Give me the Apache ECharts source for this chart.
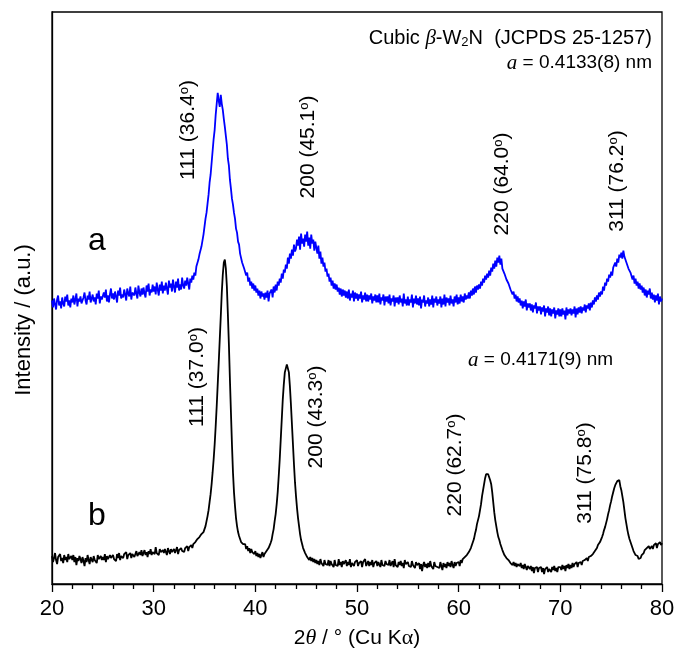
<!DOCTYPE html>
<html><head><meta charset="utf-8">
<script src="https://cdn.jsdelivr.net/npm/echarts@6/dist/echarts.min.js"></script>
<style>html,body{margin:0;padding:0;background:#fff}#c{width:678px;height:654px}</style>
</head><body><div id="c"></div>
<script>
// 2θ grid of the scans (degrees): start and step
const thetaStart = 20, thetaStep = 0.1;
// sample a (blue, offset upward), one row per degree
const intensityA = [
284,277,286,280,275,285,289,279,283,276,
287,281,278,288,283,290,279,284,277,286,
282,289,280,285,291,278,286,283,288,281,
279,287,292,284,280,289,285,293,282,286,
290,283,287,280,291,286,294,281,288,285,
284,292,287,295,283,289,282,290,296,286,
291,285,293,288,282,294,289,297,286,290,
287,295,290,284,296,291,288,298,285,292,
294,289,297,291,286,299,292,288,296,290,
297,291,287,299,293,301,289,295,292,300,
293,298,290,302,295,289,300,294,303,291,
299,294,302,296,290,304,297,301,293,305,
298,292,303,297,306,294,300,295,307,299,
296,304,299,307,301,295,306,302,309,305,
312,309,318,316,325,330,328,338,344,350,
358,366,372,381,390,402,410,422,434,446,
455,470,481,492,484,478,490,481,475,466,
458,449,440,426,419,405,396,386,380,372,
366,356,352,343,340,331,330,322,322,316,
318,309,312,303,307,299,303,296,301,294,
299,292,296,289,294,286,293,288,291,285,
292,287,294,283,291,289,295,287,298,292,
300,294,303,299,306,302,311,306,315,312,
320,316,327,321,331,326,335,329,340,333,
336,345,339,348,335,351,341,346,338,350,
343,353,339,347,336,350,341,345,334,343,
337,331,339,326,333,321,327,318,322,313,
316,308,311,303,307,299,304,296,301,295,
300,293,297,290,296,288,295,289,294,287,
293,286,295,284,291,287,294,283,292,286,
291,284,290,286,293,282,289,285,292,283,
290,283,289,285,291,281,288,284,290,282,
289,282,291,280,287,284,290,279,288,283,
288,281,290,279,286,283,289,278,287,282,
287,280,289,282,286,278,291,281,285,279,
288,279,285,282,290,277,286,281,289,280,
286,279,288,276,285,282,289,278,284,281,
287,278,285,280,289,277,286,282,288,279,
285,281,288,277,286,280,290,278,287,282,
286,279,289,281,285,278,288,282,290,280,
287,281,290,283,288,282,291,285,289,286,
292,286,294,289,296,290,298,292,299,295,
300,296,303,299,306,302,309,305,311,307,
314,309,317,313,321,316,324,318,327,322,
329,320,326,316,318,311,312,305,306,301,
303,295,297,290,293,286,290,283,288,282,
286,279,284,276,283,278,285,274,281,277,
281,274,280,272,279,276,282,271,278,274,
278,270,277,273,279,268,276,272,278,269,
276,268,275,271,277,266,274,270,276,268,
275,268,276,270,274,265,277,269,275,271,
276,269,275,271,278,267,276,270,277,272,
278,271,277,274,280,272,279,276,281,274,
282,277,284,280,287,283,289,285,292,288,
293,290,298,294,302,299,306,303,310,307,
313,309,317,315,322,318,326,322,330,327,
332,326,334,328,329,322,324,316,318,312,
314,305,309,301,306,299,303,296,301,295,
299,292,297,289,295,287,294,290,296,286,
292,285,290,282,289,284,291,280,288,283,
286
];
// sample b (black), one row per degree
const intensityB = [
28,22,26,31,24,20,27,25,30,23,
26,21,29,24,27,22,30,25,23,28,
24,29,22,27,19,26,23,28,25,21,
27,23,18,26,22,29,24,20,27,25,
22,28,24,26,21,29,25,23,28,24,
27,24,30,22,28,25,23,29,26,24,
29,25,27,23,30,26,31,24,28,26,
26,30,28,32,25,29,27,31,26,30,
31,27,29,33,28,26,32,29,34,28,
30,34,29,32,27,33,30,35,29,32,
34,30,37,31,33,29,35,32,30,34,
31,35,32,29,36,33,30,35,32,34,
35,31,33,37,30,34,32,36,33,35,
32,36,34,38,33,37,35,39,36,40,
38,42,40,45,43,47,45,50,48,52,
55,58,63,68,74,82,90,100,112,125,
140,158,178,200,222,245,268,292,310,322,
325,316,298,270,240,205,172,140,112,92,
78,66,58,52,48,45,42,44,40,38,
40,35,38,33,36,31,35,32,34,30,
33,28,31,27,30,26,29,32,27,30,
29,33,31,36,35,41,44,50,55,63,
70,80,92,108,125,145,165,185,200,212,
216,220,218,212,198,180,160,140,120,102,
88,76,66,58,50,44,40,36,34,31,
30,27,29,24,27,23,26,22,25,21,
24,20,23,19,25,21,22,18,24,20,
22,19,24,18,23,20,21,17,24,19,
21,18,25,19,22,17,23,20,19,24,
18,22,19,25,17,21,23,18,22,20,
24,18,21,19,23,17,22,20,25,18,
20,23,18,22,19,24,17,21,20,23,
18,22,20,17,24,19,21,18,23,20,
22,19,24,18,20,23,17,25,19,21,
17,22,19,23,18,21,16,24,20,18,
22,18,20,17,23,19,21,16,22,19,
18,21,15,20,13,19,22,17,20,16,
21,17,23,18,19,15,22,18,20,17,
19,16,22,18,14,21,17,20,16,22,
18,21,17,23,19,16,22,18,21,19,
22,18,24,21,25,23,27,26,29,28,
32,31,36,38,42,45,50,54,60,64,
68,74,80,88,94,100,106,110,112,110,
108,104,100,92,82,72,64,58,52,47,
44,40,37,34,32,29,30,26,28,24,
25,21,23,19,22,18,21,17,20,19,
18,21,16,19,15,20,17,14,18,16,
15,18,13,17,11,16,14,17,12,16,
14,17,12,16,10,15,13,17,12,15,
16,12,17,14,18,13,16,12,17,15,
17,14,19,15,18,13,19,16,20,15,
19,16,21,17,20,18,22,17,21,19,
22,19,23,21,24,22,26,23,27,25,
28,27,30,31,33,35,36,39,40,42,
44,47,50,54,57,61,65,70,74,79,
83,88,92,96,99,101,103,102,104,98,
94,88,82,74,66,60,54,49,45,42,
39,36,33,31,29,27,28,25,27,26,
29,27,31,34,33,36,34,38,35,37,
38,35,39,37,41,36,40,38,42,39,
41
];
const xTicks = [20, 30, 40, 50, 60, 70, 80];
const peakHKL = ['111', '200', '220', '311'];
const peakAngleA = ['36.4', '45.1', '64.0', '76.2'];
const peakAngleB = ['37.0', '43.3', '62.7', '75.8'];

const seriesA = intensityA.map((v, i) => [+(thetaStart + i * thetaStep).toFixed(2), v]);
const seriesB = intensityB.map((v, i) => [+(thetaStart + i * thetaStep).toFixed(2), v]);

const FONT = 'Liberation Sans, Arial, sans-serif';
const SERIF = 'Liberation Serif, Times New Roman, serif';
const chart = echarts.init(document.getElementById('c'), null, {renderer: 'canvas'});

function peakText(i, angles, x, y) {
  return {
    type: 'text', x: x, y: y, rotation: Math.PI / 2,
    style: {
      text: peakHKL[i] + ' (' + angles[i] + '{s|o})',
      rich: { s: { fontSize: 13, fontFamily: FONT, verticalAlign: 'top', fill: '#000' } },
      font: '21px ' + FONT, fill: '#000',
      align: 'center', verticalAlign: 'middle', textAlign: 'center', textVerticalAlign: 'middle'
    }
  };
}

chart.setOption({
  animation: false,
  backgroundColor: '#fff',
  grid: { left: 52, right: 16, top: 12, bottom: 69, show: true, borderColor: '#000', borderWidth: 1.3, containLabel: false },
  xAxis: {
    type: 'value', min: xTicks[0], max: xTicks[xTicks.length - 1], interval: 10,
    axisLine: { lineStyle: { color: '#000', width: 1.3 } },
    axisTick: { inside: false, length: 8, lineStyle: { color: '#000', width: 1.3 } },
    minorTick: { show: true, splitNumber: 5, length: 5, lineStyle: { color: '#000', width: 1.3 } },
    splitLine: { show: false },
    axisLabel: { color: '#000', fontSize: 22, fontFamily: FONT, margin: 14 },
    name: '2{i|θ} / ° (Cu K{n|α})', nameLocation: 'middle', nameGap: 43,
    nameTextStyle: {
      color: '#000', fontSize: 21, fontFamily: FONT,
      rich: {
        i: { fontStyle: 'italic', fontFamily: SERIF, fontSize: 22, color: '#000' },
        n: { fontFamily: SERIF, fontSize: 22, color: '#000' }
      }
    }
  },
  yAxis: {
    type: 'value', min: 0, max: 573,
    axisLine: { show: true, lineStyle: { color: '#000', width: 1.3 } },
    axisTick: { show: false }, axisLabel: { show: false }, splitLine: { show: false }
  },
  series: [
    { type: 'line', data: seriesA, showSymbol: false, symbol: 'none', sampling: null,
      lineStyle: { color: '#0000ff', width: 1.8 }, itemStyle: { color: '#0000ff' } },
    { type: 'line', data: seriesB, showSymbol: false, symbol: 'none', sampling: null,
      lineStyle: { color: '#000', width: 1.8 }, itemStyle: { color: '#000' } }
  ],
  graphic: [
    { type: 'text', x: 24, y: 320, rotation: Math.PI / 2, style: { text: 'Intensity / (a.u.)', font: '22px ' + FONT, fill: '#000', align: 'center', verticalAlign: 'middle' } },
    { type: 'text', x: 97, y: 241, style: { text: 'a', font: '32px ' + FONT, fill: '#000', align: 'center', verticalAlign: 'middle' } },
    { type: 'text', x: 97, y: 516, style: { text: 'b', font: '32px ' + FONT, fill: '#000', align: 'center', verticalAlign: 'middle' } },
    { type: 'text', x: 652, y: 38, style: {
        text: 'Cubic {i|β}-W{sub|2}N  (JCPDS 25-1257)',
        rich: {
          i: { fontStyle: 'italic', fontFamily: SERIF, fontSize: 21, fill: '#000' },
          sub: { fontSize: 13, fontFamily: FONT, verticalAlign: 'bottom', fill: '#000' }
        },
        font: '20px ' + FONT, fill: '#000', align: 'right', verticalAlign: 'middle' } },
    { type: 'text', x: 652, y: 63, style: {
        text: '{i|a} = 0.4133(8) nm',
        rich: { i: { fontStyle: 'italic', fontFamily: SERIF, fontSize: 21, fill: '#000' } },
        font: '19px ' + FONT, fill: '#000', align: 'right', verticalAlign: 'middle' } },
    { type: 'text', x: 468, y: 360, style: {
        text: '{i|a} = 0.4171(9) nm',
        rich: { i: { fontStyle: 'italic', fontFamily: SERIF, fontSize: 21, fill: '#000' } },
        font: '19px ' + FONT, fill: '#000', align: 'left', verticalAlign: 'middle' } },
    peakText(0, peakAngleA, 188, 130),
    peakText(1, peakAngleA, 308, 147),
    peakText(2, peakAngleA, 502, 184),
    peakText(3, peakAngleA, 617, 181),
    peakText(0, peakAngleB, 197, 377),
    peakText(1, peakAngleB, 316, 417),
    peakText(2, peakAngleB, 455, 465),
    peakText(3, peakAngleB, 585, 473)
  ]
});
</script>
</body></html>
